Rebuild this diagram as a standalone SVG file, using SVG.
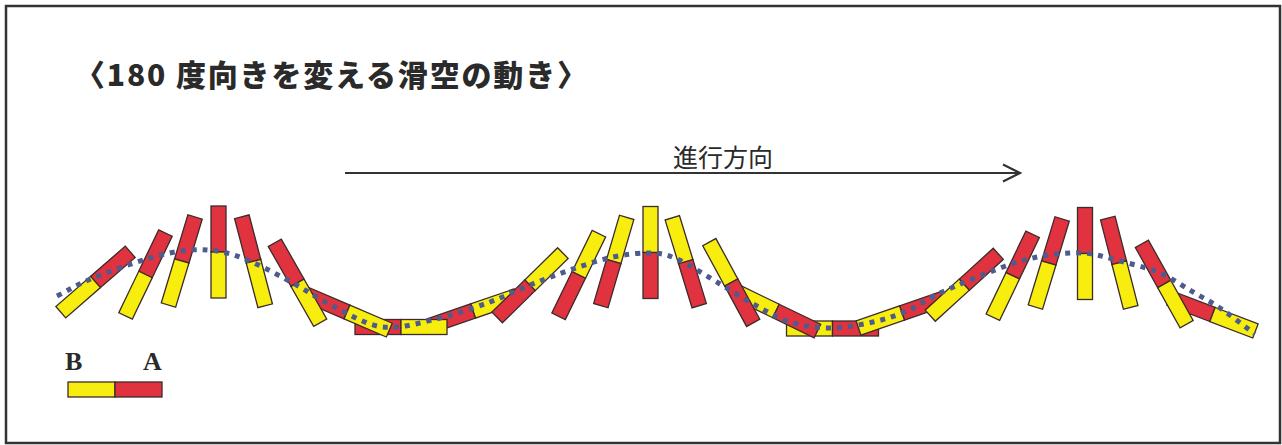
<svg xmlns="http://www.w3.org/2000/svg" xmlns:xlink="http://www.w3.org/1999/xlink" width="1282" height="445" viewBox="0 0 1282 445">
<style>
.y{fill:#f7ee10;stroke:#3b2b2b;stroke-width:1.3}
.r{fill:#e0333f;stroke:#3b2b2b;stroke-width:1.3}
.title{font-family:"Noto Sans CJK JP","Noto Sans",sans-serif;font-weight:900;font-size:30px;fill:#2a2a2a}
.lbl{font-family:"Noto Sans CJK JP","Noto Sans",sans-serif;font-size:25px;fill:#2a2a2a}
.leg{font-family:"Liberation Serif",serif;font-weight:bold;font-size:26px;fill:#2a2a2a}
.curve{fill:none;stroke:#4d5c8c;stroke-width:5;stroke-dasharray:5 6}
</style>
<defs>
<g id="ry"><rect class="r" x="-7.5" y="-46" width="15" height="46"/><rect class="y" x="-7.5" y="0" width="15" height="46"/></g>
<g id="yr"><rect class="y" x="-7.5" y="-46" width="15" height="46"/><rect class="r" x="-7.5" y="0" width="15" height="46"/></g>
</defs>
<rect x="6" y="6" width="1274" height="437" fill="#fff" stroke="#333" stroke-width="2.5"/>
<g id="title"><text class="title" x="75" y="86" textLength="512" lengthAdjust="spacing">〈180 度向きを変える滑空の動き〉</text></g>
<g id="direction">
<text class="lbl" x="723" y="167" text-anchor="middle">進行方向</text>
<line x1="345" y1="173" x2="1019" y2="173" stroke="#333" stroke-width="2.2"/>
<polyline points="1003,164.5 1020,173 1003,181.5" fill="none" stroke="#333" stroke-width="2.2"/>
</g>
<g id="bars">
<g id="bar-1"><use xlink:href="#ry" transform="translate(95.5,282) rotate(49)"/></g>
<g id="bar-2"><use xlink:href="#ry" transform="translate(145.5,274.5) rotate(25.7)"/></g>
<g id="bar-3"><use xlink:href="#ry" transform="translate(181.75,261) rotate(16.8)"/></g>
<g id="bar-4"><use xlink:href="#ry" transform="translate(218.5,252) rotate(0)"/></g>
<g id="bar-5"><use xlink:href="#ry" transform="translate(253.5,261.25) rotate(-14.7)"/></g>
<g id="bar-9"><use xlink:href="#yr" transform="translate(473,311) rotate(71)"/></g>
<g id="bar-8"><use xlink:href="#ry" transform="translate(401,327) rotate(-90)"/></g>
<g id="bar-7"><use xlink:href="#ry" transform="translate(347,312) rotate(-66.8)"/></g>
<g id="bar-6"><use xlink:href="#ry" transform="translate(297.5,282.75) rotate(-29.6)"/></g>
<g id="bar-10"><use xlink:href="#yr" transform="translate(530,285.25) rotate(45.6)"/></g>
<g id="bar-11"><use xlink:href="#yr" transform="translate(578.75,275) rotate(26)"/></g>
<g id="bar-12"><use xlink:href="#yr" transform="translate(613.75,261.5) rotate(16.3)"/></g>
<g id="bar-13"><use xlink:href="#yr" transform="translate(650.5,252.5) rotate(0)"/></g>
<g id="bar-14"><use xlink:href="#yr" transform="translate(685.75,261.75) rotate(-17)"/></g>
<g id="bar-17"><use xlink:href="#yr" transform="translate(832.5,328.5) rotate(-90)"/></g>
<g id="bar-18"><use xlink:href="#ry" transform="translate(902,313) rotate(71)"/></g>
<g id="bar-19"><use xlink:href="#ry" transform="translate(964.25,284.75) rotate(47.7)"/></g>
<g id="bar-16"><use xlink:href="#yr" transform="translate(776,311) rotate(-64.2)"/></g>
<g id="bar-15"><use xlink:href="#yr" transform="translate(731.25,282.5) rotate(-28.5)"/></g>
<g id="bar-20"><use xlink:href="#ry" transform="translate(1012.75,275.75) rotate(25.6)"/></g>
<g id="bar-21"><use xlink:href="#ry" transform="translate(1048.75,263) rotate(16.9)"/></g>
<g id="bar-22"><use xlink:href="#ry" transform="translate(1085,253.5) rotate(0)"/></g>
<g id="bar-23"><use xlink:href="#ry" transform="translate(1119.25,262.75) rotate(-14.4)"/></g>
<g id="bar-25"><use xlink:href="#ry" transform="translate(1212.5,314.5) rotate(-69)"/></g>
<g id="bar-24"><use xlink:href="#ry" transform="translate(1164.25,284) rotate(-29.1)"/></g>
</g>
<g id="path">
<path class="curve" d="M57,296 C69,290 77.5,284.3 93,278 C108.5,271.7 133.8,262.7 150,258 C166.2,253.3 178,251 190,250 C202,249 211.7,250 222,252 C232.3,254 240.2,256.8 252,262 C263.8,267.2 279.5,275.7 293,283 C306.5,290.3 318,298.7 333,306 C348,313.3 365.2,325 383,327 C400.8,329 422.2,322.2 440,318 C457.8,313.8 475,307.5 490,302 C505,296.5 516.7,290.3 530,285 C543.3,279.7 556.2,274.7 570,270 C583.8,265.3 599.7,259.8 613,257 C626.3,254.2 639.3,252.7 650,253 C660.7,253.3 665.3,253.8 677,259 C688.7,264.2 707,276.3 720,284 C733,291.7 743.3,298.7 755,305 C766.7,311.3 777.5,318.2 790,322 C802.5,325.8 816.2,328 830,328 C843.8,328 860.2,324.8 873,322 C885.8,319.2 895.8,315.8 907,311 C918.2,306.2 924,300.3 940,293 C956,285.7 985.8,273.2 1003,267 C1020.2,260.8 1029.7,258.3 1043,256 C1056.3,253.7 1070.2,252.2 1083,253 C1095.8,253.8 1107.2,257.7 1120,261 C1132.8,264.3 1147.8,267.8 1160,273 C1172.2,278.2 1183,286.2 1193,292 C1203,297.8 1209.7,301 1220,308 C1230.3,315 1243.3,325.3 1255,334"/>
</g>
<g id="legend">
<text class="leg" x="65" y="370">B</text>
<text class="leg" x="143" y="370">A</text>
<rect class="y" x="68" y="382" width="47" height="15"/>
<rect class="r" x="115" y="382" width="47" height="15"/>
</g>
</svg>
